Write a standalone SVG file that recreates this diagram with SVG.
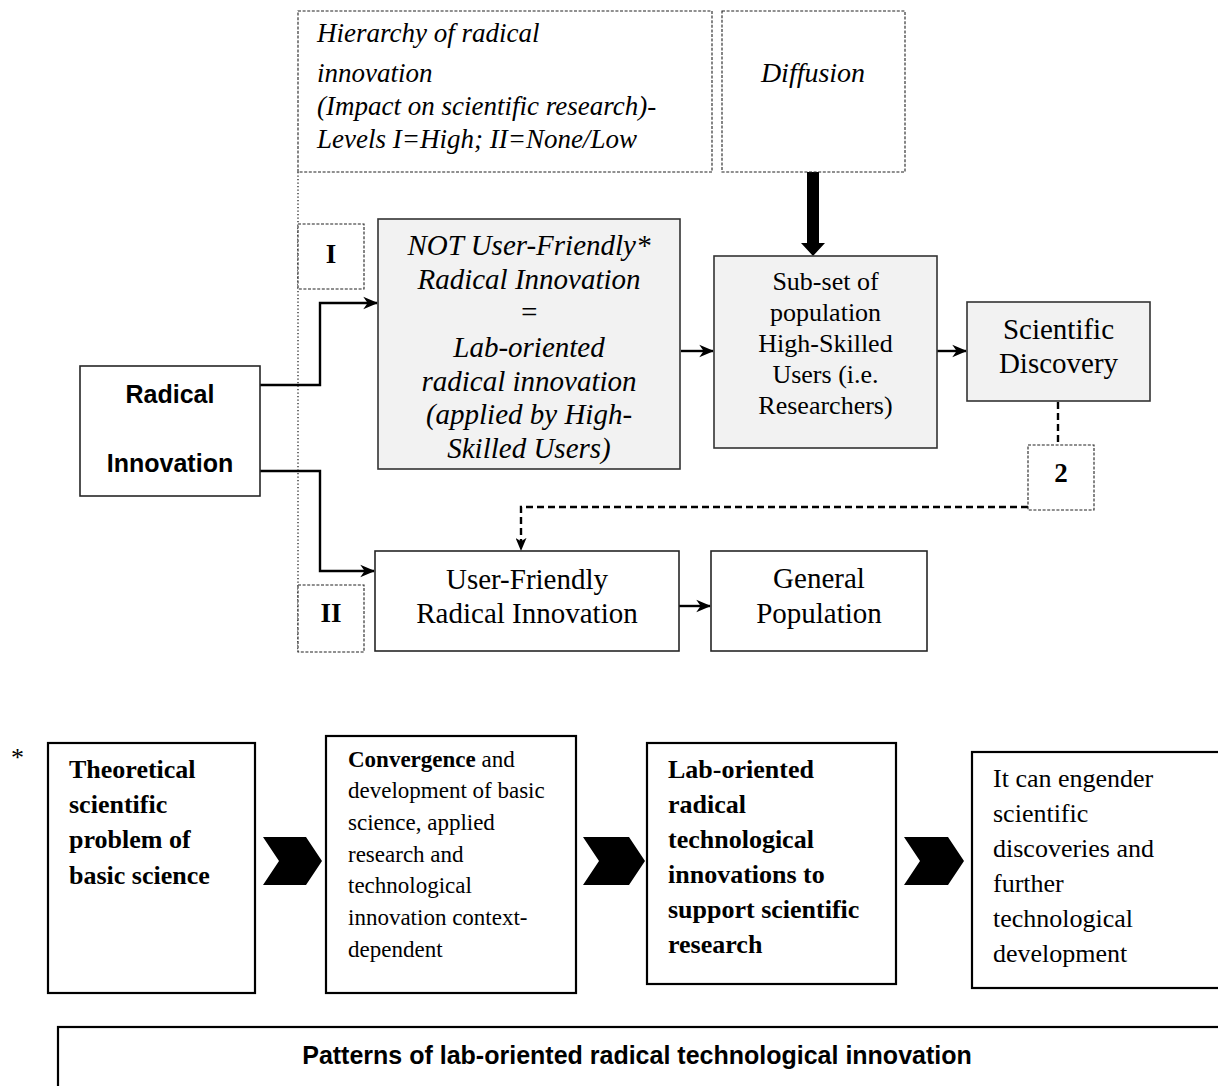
<svg xmlns="http://www.w3.org/2000/svg" width="1218" height="1086" viewBox="0 0 1218 1086">
<style>
.bg{fill:#ffffff}
.box{fill:#ffffff;stroke:#262626;stroke-width:1.6}
.grey{fill:#f2f2f2;stroke:#333333;stroke-width:1.6}
.dash{fill:#ffffff;stroke:#222222;stroke-width:1.1;stroke-dasharray:3 1.6}
.bbox{fill:#ffffff;stroke:#000000;stroke-width:2.2}
.serif{font-family:"Liberation Serif","Times New Roman",serif;fill:#000}
.it{font-style:italic}
.b{font-weight:bold}
.sans{font-family:"Liberation Sans",Arial,sans-serif;font-weight:bold;fill:#000}
.conn{fill:none;stroke:#000;stroke-width:2.4}
.dconn{fill:none;stroke:#000;stroke-width:2.4;stroke-dasharray:7 4}
.dot{fill:none;stroke:#222;stroke-width:1.3;stroke-dasharray:1.3 2.2}
.mid{text-anchor:middle}
</style>
<defs>
<marker id="arr" viewBox="0 0 12 10" refX="11" refY="5" markerWidth="15" markerHeight="14" markerUnits="userSpaceOnUse" orient="auto">
<path d="M0,0 L12,5 L0,10 L3.5,5 z" fill="#000"/>
</marker>
<marker id="arrd" viewBox="0 0 12 10" refX="11" refY="5" markerWidth="14" markerHeight="11" markerUnits="userSpaceOnUse" orient="auto">
<path d="M0,0 L12,5 L0,10 L3,5 z" fill="#000"/>
</marker>
</defs>
<rect class="bg" x="0" y="0" width="1218" height="1086"/>

<g id="connectors">
<line class="dot" x1="298" y1="172" x2="298" y2="652"/>
<path class="conn" d="M260,385 H320 V303 H377" marker-end="url(#arr)"/>
<path class="conn" d="M260,471 H320 V571 H374" marker-end="url(#arr)"/>
<path class="conn" d="M681,351 H713" marker-end="url(#arr)"/>
<path class="conn" d="M937,351 H966" marker-end="url(#arr)"/>
<path class="conn" d="M679,606 H710" marker-end="url(#arr)"/>
<polygon points="807,172 819,172 819,243 825,243 813,256 801,243 807,243" fill="#000"/>
<path class="dconn" d="M1058,402 V445"/>
<path class="dconn" d="M1028,507 H521 V550" marker-end="url(#arrd)"/>
</g>

<g id="hierarchy">
<rect class="dash" x="298" y="11" width="414" height="161"/>
<text class="serif it" font-size="27" x="317" y="42">Hierarchy of radical</text>
<text class="serif it" font-size="27" x="317" y="82">innovation</text>
<text class="serif it" font-size="27" x="317" y="115">(Impact on scientific research)-</text>
<text class="serif it" font-size="27" x="317" y="148">Levels I=High; II=None/Low</text>
</g>

<g id="diffusion">
<rect class="dash" x="722" y="11" width="183" height="161"/>
<text class="serif it mid" font-size="28" x="813" y="82">Diffusion</text>
</g>

<g id="level-I">
<rect class="dash" x="298" y="224" width="66" height="65"/>
<text class="serif b mid" font-size="27" x="331" y="263">I</text>
</g>

<g id="level-II">
<rect class="dash" x="298" y="585" width="66" height="67"/>
<text class="serif b mid" font-size="27" x="331" y="622">II</text>
</g>

<g id="radical-innovation">
<rect class="box" x="80" y="366" width="180" height="130"/>
<text class="sans mid" font-size="25" x="170" y="403">Radical</text>
<text class="sans mid" font-size="25" x="170" y="472">Innovation</text>
</g>

<g id="not-user-friendly">
<rect class="grey" x="378" y="219" width="302" height="250"/>
<g class="serif it mid" font-size="29">
<text x="529" y="255">NOT User-Friendly*</text>
<text x="529" y="289">Radical Innovation</text>
<text x="529" y="322">=</text>
<text x="529" y="357">Lab-oriented</text>
<text x="529" y="391">radical innovation</text>
<text x="529" y="424">(applied by High-</text>
<text x="529" y="458">Skilled Users)</text>
</g>
</g>

<g id="subset">
<rect class="grey" x="714" y="256" width="223" height="192"/>
<g class="serif mid" font-size="26">
<text x="825.5" y="290">Sub-set of</text>
<text x="825.5" y="321">population</text>
<text x="825.5" y="352">High-Skilled</text>
<text x="825.5" y="383">Users (i.e.</text>
<text x="825.5" y="414">Researchers)</text>
</g>
</g>

<g id="scientific-discovery">
<rect class="grey" x="967" y="302" width="183" height="99"/>
<text class="serif mid" font-size="29" x="1058.5" y="339">Scientific</text>
<text class="serif mid" font-size="29" x="1058.5" y="373">Discovery</text>
</g>

<g id="label-2">
<rect class="dash" x="1028" y="445" width="66" height="65"/>
<text class="serif b mid" font-size="27" x="1061" y="482">2</text>
</g>

<g id="user-friendly">
<rect class="box" x="375" y="551" width="304" height="100"/>
<text class="serif mid" font-size="29" x="527" y="589">User-Friendly</text>
<text class="serif mid" font-size="29" x="527" y="623">Radical Innovation</text>
</g>

<g id="general-population">
<rect class="box" x="711" y="551" width="216" height="100"/>
<text class="serif mid" font-size="29" x="819" y="588">General</text>
<text class="serif mid" font-size="29" x="819" y="623">Population</text>
</g>

<text class="serif" font-size="26" x="11" y="766">*</text>

<g id="step-1">
<rect class="bbox" x="48" y="743" width="207" height="250"/>
<g class="serif b" font-size="26">
<text x="69" y="778">Theoretical</text>
<text x="69" y="813">scientific</text>
<text x="69" y="848">problem of</text>
<text x="69" y="884">basic science</text>
</g>
</g>

<g id="chevron-1"><polygon points="263,837 306,837 322,861 306,885 263,885 279,861" fill="#000"/></g>

<g id="step-2">
<rect class="bbox" x="326" y="736" width="250" height="257"/>
<g class="serif" font-size="23">
<text x="348" y="767"><tspan font-weight="bold">Convergence</tspan> and</text>
<text x="348" y="798">development of basic</text>
<text x="348" y="830">science, applied</text>
<text x="348" y="862">research and</text>
<text x="348" y="893">technological</text>
<text x="348" y="925">innovation context-</text>
<text x="348" y="957">dependent</text>
</g>
</g>

<g id="chevron-2"><polygon points="583,837 629,837 645,861 629,885 583,885 599,861" fill="#000"/></g>

<g id="step-3">
<rect class="bbox" x="647" y="743" width="249" height="241"/>
<g class="serif b" font-size="26">
<text x="668" y="778">Lab-oriented</text>
<text x="668" y="813">radical</text>
<text x="668" y="848">technological</text>
<text x="668" y="883">innovations to</text>
<text x="668" y="918">support scientific</text>
<text x="668" y="953">research</text>
</g>
</g>

<g id="chevron-3"><polygon points="904,837 948,837 964,861 948,885 904,885 920,861" fill="#000"/></g>

<g id="step-4">
<rect class="bbox" x="972" y="752" width="260" height="236"/>
<g class="serif" font-size="26">
<text x="993" y="787">It can engender</text>
<text x="993" y="822">scientific</text>
<text x="993" y="857">discoveries and</text>
<text x="993" y="892">further</text>
<text x="993" y="927">technological</text>
<text x="993" y="962">development</text>
</g>
</g>

<g id="patterns">
<rect class="bbox" x="58" y="1027" width="1180" height="80"/>
<text class="sans mid" font-size="25" x="637" y="1064">Patterns of lab-oriented radical technological innovation</text>
</g>
</svg>
